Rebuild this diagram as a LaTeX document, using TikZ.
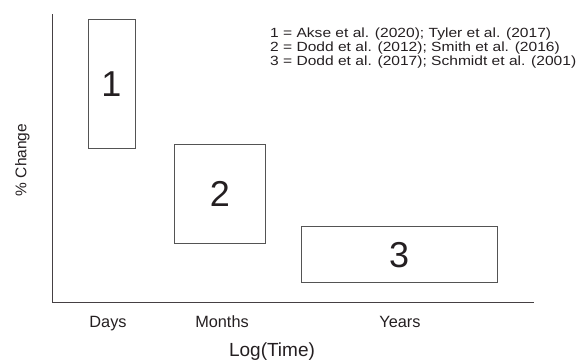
\documentclass[tikz,border=0pt]{standalone}
\usepackage{fontspec}
\setmainfont{Liberation Sans}
\usetikzlibrary{positioning}
\definecolor{ink}{rgb}{0.14,0.12,0.13}
\definecolor{edge}{rgb}{0.33,0.33,0.33}
\newcommand{\widetext}[1]{\scalebox{1.17}[1]{#1}}

\begin{document}
\begin{tikzpicture}
    [x=1pt, y=-1pt,
    spanbox/.style={draw=edge, line width=0.8pt, inner sep=0pt, text=ink, font=\fontsize{36}{40}\selectfont},
    ticklabel/.style={anchor=base, text=ink, inner sep=0pt, font=\fontsize{16.3}{18}\selectfont},
    legendline/.style={anchor=base west, text=ink, inner sep=0pt, font=\fontsize{13.3}{15}\selectfont}]
    \useasboundingbox (0, 0) rectangle (576, 359);
    %\draw[step=10pt,gray,very thin] (0,0) grid (576,359);
    \coordinate (top) at (52, 14);
    \coordinate (O) at (52, 302.5);
    \coordinate (right) at (534, 302.5);
    \draw[line width=0.9pt, ink!85] (top) -- (O) -- (right);
    \node[spanbox, minimum width=47pt, minimum height=129pt] (R1) at (111.5, 83.8) {1};
    \node[spanbox, minimum width=91pt, minimum height=99pt] (R2) at (219.8, 193.8) {2};
    \node[spanbox, minimum width=196pt, minimum height=56pt] (R3) at (399.2, 254.7) {3};
    \node[ticklabel] (days) at (108, 327) {Days};
    \node[ticklabel] (months) at (222, 327) {Months};
    \node[ticklabel] (years) at (400, 327) {Years};
    \node[ticklabel, font=\fontsize{19}{21}\selectfont] (xlab) at (272, 356) {Log(Time)};
    \node[ticklabel, rotate=90, font=\fontsize{15.5}{17}\selectfont] (ylab) at (26.5, 160) {\% Change};
    \node[legendline] (leg1) at (270, 37.2) {\widetext{1 = Akse et al. (2020); Tyler et al. (2017)}};
    \node[legendline] (leg2) at (270, 51.5) {\widetext{2 = Dodd et al. (2012); Smith et al. (2016)}};
    \node[legendline] (leg3) at (270, 65.8) {\widetext{3 = Dodd et al. (2017); Schmidt et al. (2001)}};
\end{tikzpicture}
\end{document}
